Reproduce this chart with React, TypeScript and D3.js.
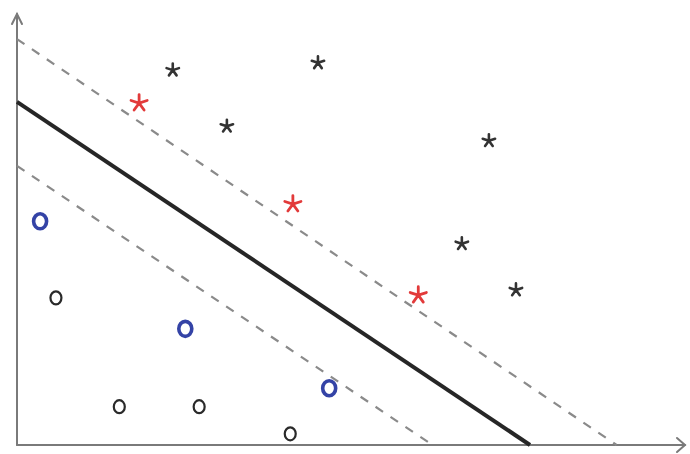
import React from "react";
import * as d3 from "d3";

// Positive class (stars): ordinary samples and support vectors
const starX = [2.36, 4.56, 3.18, 7.15, 6.74, 7.56];
const starY = [5.68, 5.79, 4.83, 4.61, 3.05, 2.35];
const starSvX = [1.85, 4.18, 6.08];
const starSvY = [5.18, 3.65, 2.27];

// Negative class (circles): ordinary samples and support vectors
const circX = [0.59, 1.55, 2.76, 4.14];
const circY = [2.23, 0.58, 0.58, 0.17];
const circSvX = [0.35, 2.55, 4.73];
const circSvY = [3.39, 1.76, 0.86];

// Separating hyperplane and the two margin boundaries: y = intercept - slope * x
const lineNames = ["upper", "boundary", "lower"];
const lineIntercepts = [6.15, 5.2, 4.23];
const lineSlopes = [0.677, 0.669, 0.672];

const W = 690;
const H = 454;
const x0 = 17;
const y0 = 445;

const x = d3.scaleLinear().domain([0, 10]).range([x0, x0 + 660]);
const y = d3.scaleLinear().domain([0, 6.5]).range([y0, y0 - 429]);

function asteriskPath(cx: number, cy: number, r: number): string {
  const parts: string[] = [];
  for (let k = 0; k < 5; k++) {
    const a = -Math.PI / 2 + (k * 2 * Math.PI) / 5;
    parts.push(`M${cx},${cy}L${cx + r * Math.cos(a)},${cy + r * Math.sin(a)}`);
  }
  return parts.join("");
}

export default function App() {
  const lineGen = d3
    .line<[number, number]>()
    .x((d) => x(d[0]))
    .y((d) => y(d[1]));

  const lines = lineNames.map((name, i) => {
    const c = lineIntercepts[i];
    const m = lineSlopes[i];
    const pts: [number, number][] = [
      [0, c],
      [c / m, 0],
    ];
    return { name, d: lineGen(pts) as string };
  });

  return (
    <svg
      width={W}
      height={H}
      style={{ position: "absolute", left: 0, top: 0, background: "#fff" }}
    >
      {/* axes */}
      <g stroke="#7a7a7a" strokeWidth={2} fill="none" strokeLinecap="round">
        <line x1={x0} y1={y0} x2={x0} y2={14} />
        <line x1={x0} y1={y0} x2={685} y2={y0} />
        <path d={`M${x0 - 5},${24}L${x0},${14}L${x0 + 5},${24}`} />
        <path d={`M${677},${y0 - 7}L${685},${y0}L${677},${y0 + 7}`} />
      </g>

      {/* margin lines and hyperplane */}
      {lines.map((l) =>
        l.name === "boundary" ? (
          <path key={l.name} d={l.d} stroke="#262626" strokeWidth={4} fill="none" />
        ) : (
          <path
            key={l.name}
            d={l.d}
            stroke="#8a8a8a"
            strokeWidth={2.2}
            strokeDasharray="9 9"
            fill="none"
          />
        )
      )}

      {/* stars */}
      <g fill="none" strokeLinecap="round">
        {starX.map((v, i) => (
          <path
            key={"s" + i}
            d={asteriskPath(x(v), y(starY[i]), 6.5)}
            stroke="#333"
            strokeWidth={2.6}
          />
        ))}
        {starSvX.map((v, i) => (
          <path
            key={"sv" + i}
            d={asteriskPath(x(v), y(starSvY[i]), 8.5)}
            stroke="#e23a3a"
            strokeWidth={2.8}
          />
        ))}
      </g>

      {/* circles */}
      <g fill="none">
        {circX.map((v, i) => (
          <ellipse
            key={"c" + i}
            cx={x(v)}
            cy={y(circY[i])}
            rx={5.5}
            ry={6.5}
            stroke="#2a2a2a"
            strokeWidth={2.2}
          />
        ))}
        {circSvX.map((v, i) => (
          <ellipse
            key={"cv" + i}
            cx={x(v)}
            cy={y(circSvY[i])}
            rx={6.5}
            ry={7.5}
            stroke="#3443a6"
            strokeWidth={3.6}
          />
        ))}
      </g>
    </svg>
  );
}
